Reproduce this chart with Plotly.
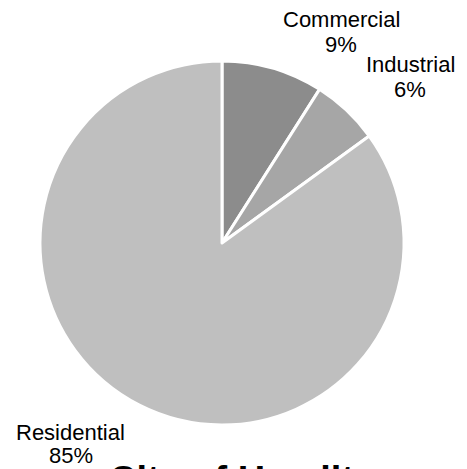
import plotly.graph_objects as go

labels = ["Commercial", "Industrial", "Residential"]
values = [9, 6, 85]
colors = ["#8c8c8c", "#a6a6a6", "#bfbfbf"]
title_text = "City of Hamilton"

W, H = 467, 469
OFF = 8  # page body margin
def px(x):
    return (x - OFF) / W
def py(y):
    return 1 - (y - OFF) / H

fig = go.Figure(go.Pie(
    labels=labels, values=values, sort=False, direction="clockwise", rotation=0,
    marker=dict(colors=colors, line=dict(color="white", width=3)),
    textinfo="none", hoverinfo="label+percent", showlegend=False,
    domain=dict(x=[px(40), px(404)], y=[py(425), py(61)]),
))

label_pos = [(341, 19, 44), (410, 65, 90), (71, 432, 455)]
FONT = dict(family="Liberation Sans, Arial", size=22, color="#000000")
anns = []
for (lab, val, (cx, y1, y2)) in zip(labels, values, label_pos):
    anns.append(dict(x=px(cx), y=py(y1), xref="paper", yref="paper", text=lab,
                     showarrow=False, xanchor="center", yanchor="middle", font=FONT))
    anns.append(dict(x=px(cx), y=py(y2), xref="paper", yref="paper", text=f"{val}%",
                     showarrow=False, xanchor="center", yanchor="middle", font=FONT))
anns.append(dict(x=px(107), y=py(457), xref="paper", yref="paper", text=f"<b>{title_text}</b>",
                 showarrow=False, xanchor="left", yanchor="top",
                 font=dict(family="Liberation Sans, Arial", size=38, color="#000000")))

fig.update_layout(width=W, height=H, margin=dict(l=0, r=0, t=0, b=0),
                  paper_bgcolor="white", plot_bgcolor="white", annotations=anns)
fig.write_html("out.html")
